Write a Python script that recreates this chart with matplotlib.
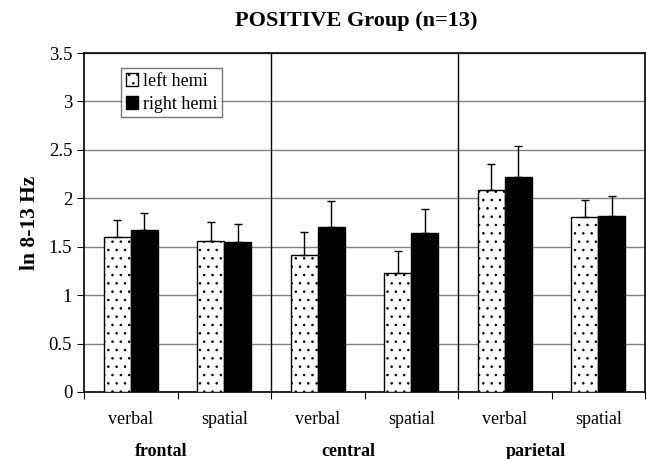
import numpy as np
import matplotlib
matplotlib.use("Agg")
import matplotlib.pyplot as plt

# values
conditions = ["verbal", "spatial", "verbal", "spatial", "verbal", "spatial"]
regions = ["frontal", "central", "parietal"]
left_hemi = [1.60, 1.56, 1.41, 1.23, 2.09, 1.81]
right_hemi = [1.67, 1.55, 1.70, 1.64, 2.22, 1.82]
left_err = [0.18, 0.20, 0.24, 0.23, 0.26, 0.17]
right_err = [0.18, 0.18, 0.27, 0.25, 0.32, 0.20]
yticks = [0, 0.5, 1, 1.5, 2, 2.5, 3, 3.5]

plt.rcParams['font.family'] = ['Liberation Serif', 'DejaVu Serif']
plt.rcParams['hatch.linewidth'] = 0.6

fig = plt.figure(figsize=(6.47, 4.59), dpi=100)
ax = fig.add_axes([84 / 647, 1 - 392 / 459, 561 / 647, 339 / 459])

x = np.arange(len(conditions))
w = 0.29
ax.bar(x - w / 2, left_hemi, w, color="white", edgecolor="black", hatch="..",
       linewidth=1.0, label="left hemi", zorder=3,
       yerr=[np.zeros(6), left_err], capsize=3,
       error_kw=dict(ecolor="black", elinewidth=1.0, capthick=1.0, zorder=4))
ax.bar(x + w / 2, right_hemi, w, color="black", edgecolor="black",
       linewidth=1.0, label="right hemi", zorder=3,
       yerr=[np.zeros(6), right_err], capsize=3,
       error_kw=dict(ecolor="black", elinewidth=1.0, capthick=1.0, zorder=4))

ax.set_xlim(-0.5, len(conditions) - 0.5)
ax.set_ylim(0, 3.5)
ax.set_yticks(yticks)
ax.set_yticklabels([f"{t:g}" for t in yticks], fontsize=13.5)
ax.yaxis.grid(True, color="#808080", linewidth=1.0, zorder=0)
ax.set_axisbelow(True)

# region separators
for b in [1.5, 3.5]:
    ax.axvline(b, color="black", linewidth=1.0, zorder=2)

# ticks at category boundaries, labels at centers
ax.set_xticks(np.arange(-0.5, len(conditions), 1.0))
ax.set_xticklabels([])
ax.set_xticks(x, minor=True)
ax.set_xticklabels(conditions, minor=True, fontsize=13)
ax.tick_params(axis="x", which="minor", length=0, pad=14)
ax.tick_params(axis="x", which="major", length=5, direction="out")
ax.tick_params(axis="y", length=5, direction="out")

for i, r in enumerate(regions):
    ax.text(2 * i + 0.5 - 0.17, -60 / 339, r, transform=ax.get_xaxis_transform(),
            ha="center", va="center", fontsize=13, fontweight="bold")

for s in ax.spines.values():
    s.set_linewidth(1.2)

ax.set_ylabel("ln 8-13 Hz", fontsize=15.5, fontweight="bold", labelpad=6)
fig.text(356 / 647, 1 - 21 / 459, "POSITIVE Group (n=13)", ha="center",
         va="center", fontsize=16, fontweight="bold")

leg = ax.legend(loc="upper left", bbox_to_anchor=(37 / 561, 1 - 15 / 339),
                fontsize=13, frameon=True, fancybox=False, edgecolor="#555555",
                handlelength=0.7, handleheight=0.7, handletextpad=0.25,
                borderpad=0.25, labelspacing=0.35, borderaxespad=0)
leg.get_frame().set_linewidth(1.0)

fig.savefig("out.png", dpi=100)
